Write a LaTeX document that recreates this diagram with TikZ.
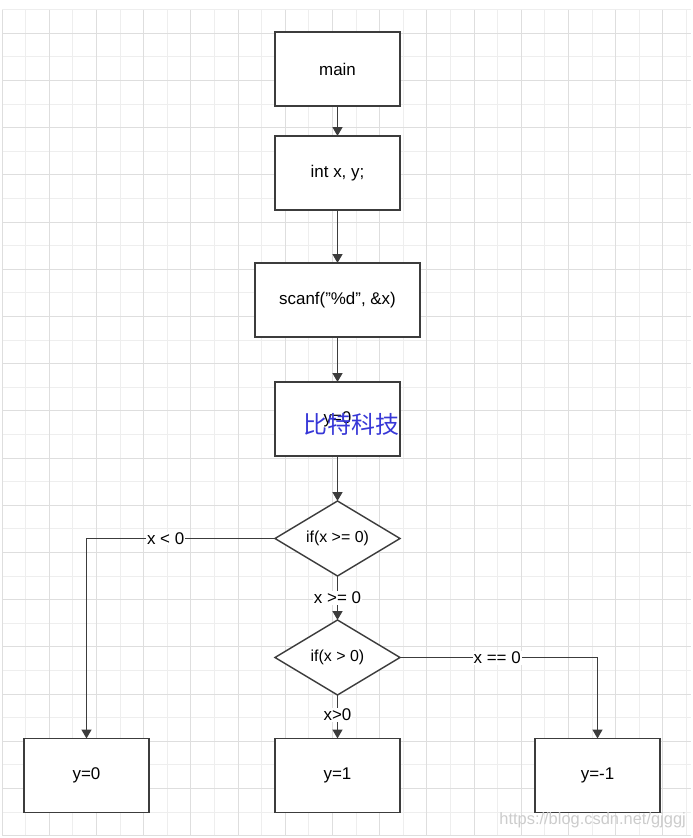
\documentclass[tikz,border=0pt]{standalone}
\usepackage{fontspec}
\setmainfont{Liberation Sans}
\newfontfamily\cjk{Noto Sans CJK SC}
\usetikzlibrary{shapes.geometric,arrows.meta}
\definecolor{gridmajor}{RGB}{222,222,222}
\definecolor{gridminor}{RGB}{238,238,238}
\definecolor{edgecol}{RGB}{60,60,60}
\definecolor{wmblue}{RGB}{55,55,215}
\tikzset{
  box/.style={draw=edgecol, line width=1.4bp, fill=white, minimum width=125bp, minimum height=74bp, inner sep=0pt, outer sep=0pt, font=\fontsize{17}{20}\selectfont},
  dia/.style={draw=edgecol, line width=1.4bp, fill=white, shape=diamond, aspect=1.667, minimum width=125bp, minimum height=75bp, inner sep=0pt, outer sep=0pt, font=\fontsize{16}{19}\selectfont},
  arr/.style={draw=edgecol, line width=1.5bp, -{Triangle[length=9bp,width=10bp]}},
  lbl/.style={fill=white, inner sep=1pt, font=\fontsize{17}{20}\selectfont},
  gmin/.style={draw=gridminor, line width=1.5bp},
  gmaj/.style={draw=gridmajor, line width=1.5bp}
}
\begin{document}
\begin{tikzpicture}[x=1bp,y=-1bp]
\useasboundingbox (0,0) rectangle (693,838);
\fill[white] (0,0) rectangle (693,838);
% grid: minor lines first, then major (snapped to pixels)
\foreach \k in {1,3,...,29} { \pgfmathsetmacro{\gx}{floor(2+23.6*\k)+0.5} \draw[gmin] (\gx,9.5) -- (\gx,835.5); }
\foreach \k in {0,2,...,34} { \pgfmathsetmacro{\gy}{floor(9.65+23.6*\k)+0.5} \draw[gmin] (2,\gy) -- (691,\gy); }
\foreach \k in {0,2,...,28} { \pgfmathsetmacro{\gx}{floor(2+23.6*\k)+0.5} \draw[gmaj] (\gx,9.5) -- (\gx,835.5); }
\foreach \k in {1,3,...,35} { \pgfmathsetmacro{\gy}{floor(9.65+23.6*\k)+0.5} \draw[gmaj] (2,\gy) -- (691,\gy); }
% nodes
\node[box] (main) at (337.5,69) {main};
\node[box] (decl) at (337.5,173) {int x, y;};
\node[box, minimum width=165bp] (scan) at (337.5,300) {scanf("\%d", \&x)};
\node[box] (init) at (337.5,419) {y=0};
\node[dia] (d1) at (337.5,538.5) {if(x >= 0)};
\node[dia] (d2) at (337.5,657.5) {if(x > 0)};
\node[box] (yneg) at (86.5,775.5) {y=0};
\node[box] (ypos) at (337.5,775.5) {y=1};
\node[box] (yzero) at (597.5,775.5) {y=-1};
% watermark
\node[text=wmblue, font=\cjk\fontsize{24}{28}\selectfont, inner sep=0pt] (wm) at (351.5,424) {比特科技};
% connectors
\draw[arr] (main) -- (decl);
\draw[arr] (decl) -- (scan);
\draw[arr] (scan) -- (init);
\draw[arr] (init) -- (d1);
\draw[arr] (d1) -- node[lbl, pos=0.5] {x >= 0} (d2);
\draw[arr] (d2) -- node[lbl, pos=0.45] {x>0} (ypos);
\draw[arr] (d1.west) -| node[lbl, pos=0.29] {x < 0} (yneg.north);
\draw[arr] (d2.east) -| node[lbl, pos=0.246] {x == 0} (yzero.north);
% csdn watermark
\node[text=black!20, font=\fontsize{16.5}{19}\selectfont, inner sep=0pt, anchor=east] (csdn) at (686,820) {https://blog.csdn.net/gjggj};
\end{tikzpicture}
\end{document}
